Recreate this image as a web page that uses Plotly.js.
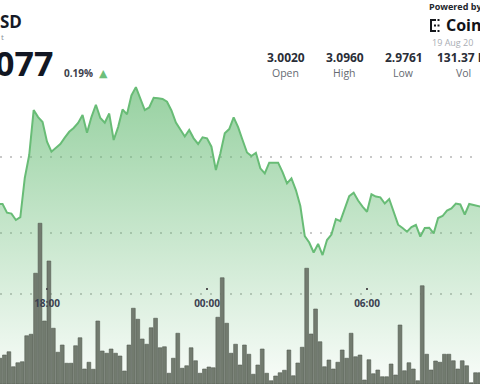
<!DOCTYPE html>
<html>
<head>
<meta charset="utf-8">
<script src="https://cdn.plot.ly/plotly-3.0.1.min.js"></script>
<style>html,body{margin:0;padding:0;background:#fff;}#chart{width:480px;height:384px;}</style>
</head>
<body>
<div id="chart"></div>
<script>
// ---- data (10-minute intervals starting 2025-08-18 16:10) ----
const startUTC = Date.UTC(2025, 7, 18, 16, 10);
const stepMinutes = 10;

const priceValues = [
  3.0191,3.0191,3.0134,3.0128,3.0086,3.0105,3.0362,3.0513,3.0809,3.0763,3.0730,
  3.0601,3.0535,3.0563,3.0586,3.0628,3.0666,3.0691,3.0724,3.0776,3.0660,3.0763,
  3.0844,3.0757,3.0726,3.0786,3.0612,3.0697,3.0813,3.0781,3.0905,3.0960,3.0886,
  3.0809,3.0826,3.0890,3.0887,3.0882,3.0864,3.0806,3.0727,3.0678,3.0635,3.0678,
  3.0623,3.0586,3.0630,3.0623,3.0568,3.0414,3.0524,3.0656,3.0684,3.0761,3.0697,
  3.0612,3.0530,3.0507,3.0528,3.0426,3.0393,3.0463,3.0463,3.0463,3.0401,3.0327,
  3.0360,3.0283,3.0178,2.9980,2.9938,2.9872,2.9928,2.9855,2.9954,2.9990,3.0092,
  3.0079,3.0161,3.0243,3.0265,3.0214,3.0174,3.0140,3.0255,3.0240,3.0235,3.0194,
  3.0224,3.0138,3.0055,3.0033,3.0009,3.0039,3.0053,2.9977,3.0033,3.0035,2.9998,
  3.0099,3.0112,3.0148,3.0162,3.0194,3.0188,3.0122,3.0191,3.0184,3.0178,3.0171
];

// volume per 10-minute bar, millions
const volumeValues = [
  1.03,1.16,1.29,0.69,0.85,0.89,1.93,1.99,4.43,6.43,2.52,4.92,2.23,1.27,1.56,0.83,
  0.83,1.53,1.85,0.60,0.87,0.59,2.52,1.32,1.23,1.40,1.23,1.12,0.52,1.56,3.03,2.59,
  1.80,1.59,2.25,2.63,1.45,
  1.49,0.43,1.03,2.03,0.63,0.73,1.45,0.93,0.43,0.60,0.68,0.65,2.67,4.25,2.43,1.23,
  1.59,0.76,1.56,1.19,0.39,0.76,1.40,0.43,0.13,0.32,0.45,0.55,1.36,0.33,0.84,1.47,
  4.63,2.00,3.00,1.69,
  0.69,0.96,0.60,0.87,1.36,1.03,2.03,1.09,1.16,0.16,0.97,0.41,0.56,0.29,0.29,0.80,
  0.36,2.36,0.53,0.85,0.60,0.13,3.93,1.19,0.56,0.92,0.87,1.19,1.19,0.93,0.60,0.93,
  0.73,0.05,0.45,0.45
];

const tickVals = ['2025-08-18 18:00', '2025-08-19 00:00', '2025-08-19 06:00'];
const tickText = ['18:00', '00:00', '06:00'];
const gridPrices = [2.96, 3.00, 3.05];

const headerPair = 'SD';
const headerSub = 't';
const headerPrice = '077';
const headerChange = '0.19%';
const statValues = ['3.0020', '3.0960', '2.9761', '131.37 M'];
const statLabels = ['Open', 'High', 'Low', 'Vol'];
const poweredText = 'Powered by';
const brandText = 'Coin';
const dateText = '19 Aug 20';

// ---- build ----
function ts(i) {
  return new Date(startUTC + i * stepMinutes * 60000).toISOString().slice(0, 16).replace('T', ' ');
}
const priceTimes = priceValues.map((_, i) => ts(i));
const volumeTimes = volumeValues.map((_, i) => ts(i));

const W = 480, H = 384;
const px = x => x / W;
const py = y => 1 - y / H;

const FONT = '"Open Sans", "DejaVu Sans", sans-serif';

const areaTrace = {
  type: 'scatter', mode: 'lines',
  x: priceTimes, y: priceValues,
  xaxis: 'x', yaxis: 'y',
  line: {color: 'rgb(104,188,118)', width: 2},
  fill: 'tozeroy',
  fillgradient: {
    type: 'vertical', start: 2.90, stop: 3.10,
    colorscale: [[0, 'rgba(104,188,118,0.04)'], [1, 'rgba(104,188,118,0.70)']]
  },
  hoverinfo: 'skip'
};

const barTrace = {
  type: 'bar',
  x: volumeTimes, y: volumeValues,
  xaxis: 'x', yaxis: 'y2',
  width: 510000, offset: 0,
  marker: {color: 'rgb(114,123,111)', line: {color: 'rgb(84,92,82)', width: 0.6}},
  hoverinfo: 'skip'
};

const annotations = [];
function addText(text, x, y, size, color, bold, xanchor) {
  annotations.push({
    text: bold ? '<b>' + text + '</b>' : text,
    xref: 'paper', yref: 'paper', x: px(x), y: py(y),
    xanchor: xanchor || 'left', yanchor: 'middle',
    showarrow: false, borderpad: 0,
    font: {family: FONT, size: size, color: color}
  });
}
addText(headerPair, -1, 21, 17, '#151a26', true, 'left');
addText(headerSub, 0, 36, 8, '#8a8f99', false, 'left');
addText(headerPrice, 54, 63, 34, '#121723', true, 'right');
addText(headerChange, 63, 73, 10, '#3b404b', true, 'left');
addText('▲', 103, 73, 11, '#6cbf7a', false, 'center');

const colX = [285.5, 344.5, 403.5, 463];
statValues.forEach((v, i) => addText(v, colX[i], 58, 12, '#2a2e37', true, 'center'));
statLabels.forEach((v, i) => addText(v, colX[i], 73, 10.5, '#666a72', false, 'center'));

addText(poweredText, 428, 6, 9, '#23262d', true, 'left');
addText(brandText, 445, 25, 16, '#111318', true, 'left');
addText(dateText, 431, 43, 9, '#a9adb3', false, 'left');

// small brand icon
const ic = '#15171c';
const shapes = [
  [430, 19, 432, 32], [430, 19, 436, 21], [430, 30, 436, 32],
  [437.5, 19, 439.5, 21], [437.5, 30, 439.5, 32], [434, 24.5, 436, 26.5], [437.5, 24.5, 439.5, 26.5]
].map(r => ({
  type: 'rect', xref: 'paper', yref: 'paper',
  x0: px(r[0]), x1: px(r[2]), y0: py(r[1]), y1: py(r[3]),
  fillcolor: ic, line: {width: 0}
}));

const layout = {
  width: W, height: H,
  margin: {l: 0, r: 0, t: 0, b: 0, pad: 0},
  paper_bgcolor: '#ffffff', plot_bgcolor: '#ffffff',
  showlegend: false, hovermode: false,
  font: {family: FONT},
  xaxis: {
    type: 'date',
    range: ['2025-08-18 16:14:15', '2025-08-19 10:14:15'],
    tickvals: tickVals, ticktext: tickText,
    anchor: 'free', position: py(287),
    showgrid: false, zeroline: false, showline: false,
    ticks: 'outside', ticklen: 1.5, tickwidth: 1.5, tickcolor: '#555',
    ticklabelstandoff: 5,
    tickfont: {family: FONT, size: 10, color: '#3b4150', weight: 'bold'},
    fixedrange: true
  },
  yaxis: {
    range: [2.9007, 3.1533],
    tickvals: gridPrices, showticklabels: false,
    showgrid: true, gridcolor: '#c8c8c8', gridwidth: 1.5, griddash: '1.5px,8.5px',
    zeroline: false, showline: false, ticks: '', fixedrange: true
  },
  yaxis2: {
    overlaying: 'y', side: 'right', range: [0, 15.36],
    visible: false, showgrid: false, zeroline: false, fixedrange: true
  },
  annotations: annotations,
  shapes: shapes
};

Plotly.newPlot('chart', [areaTrace, barTrace], layout, {staticPlot: true, displayModeBar: false});
</script>
</body>
</html>
